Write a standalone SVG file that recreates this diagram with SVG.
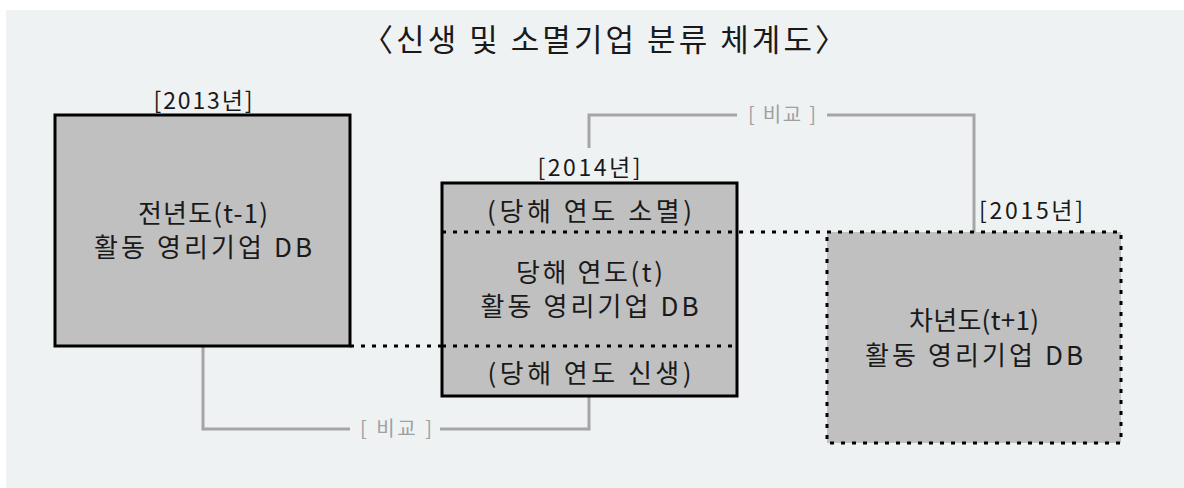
<svg xmlns="http://www.w3.org/2000/svg" width="1184" height="488" viewBox="0 0 1184 488">
<style>
text{font-family:"Noto Sans CJK KR","Noto Sans",sans-serif;fill:#1a1a1a;text-anchor:middle}
.title{font-size:31px}
.lbl{font-size:23px}
.box{font-size:26px}
.cmp{font-size:20px;fill:#a0a0a0}
.solid{fill:#c0c0c0;stroke:#000;stroke-width:3}
.dot{fill:none;stroke:#000;stroke-width:3;stroke-dasharray:4 7}
.gray{fill:none;stroke:#a5a5a5;stroke-width:3}
</style>
<rect x="6" y="10" width="1178" height="478" fill="#eff2f3"/>
<text class="title" x="604" y="51" textLength="484" lengthAdjust="spacing">〈신생 및 소멸기업 분류 체계도〉</text>
<g id="connectors">
<path class="gray" d="M203,346 V429 H350 M440,429 H589 V396"/>
<path class="gray" d="M589,148 V115 H737 M827,115 H974 V232"/>
<path class="dot" d="M350,346 H737"/>
<path class="dot" d="M442,232 H827"/>
<text class="cmp" x="396" y="436" textLength="72" lengthAdjust="spacing">[ 비교 ]</text>
<text class="cmp" x="782" y="122" textLength="68" lengthAdjust="spacing">[ 비교 ]</text>
</g>
<g id="box2013">
<rect class="solid" x="55" y="115" width="295" height="231"/>
<text class="lbl" x="203" y="109" textLength="99" lengthAdjust="spacing">[2013년]</text>
<text class="box" x="203" y="223" textLength="130" lengthAdjust="spacing">전년도(t-1)</text>
<text class="box" x="203" y="257" textLength="218" lengthAdjust="spacing">활동 영리기업 DB</text>
</g>
<g id="box2014">
<rect class="solid" x="442" y="183" width="295" height="213"/>
<path class="dot" d="M442,232 H737 M442,346 H737"/>
<text class="lbl" x="589" y="176" textLength="103" lengthAdjust="spacing">[2014년]</text>
<text class="box" x="589.5" y="221" textLength="205" lengthAdjust="spacing">(당해 연도 소멸)</text>
<text class="box" x="589.5" y="282" textLength="147" lengthAdjust="spacing">당해 연도(t)</text>
<text class="box" x="589.5" y="316" textLength="218" lengthAdjust="spacing">활동 영리기업 DB</text>
<text class="box" x="589.5" y="383" textLength="204" lengthAdjust="spacing">(당해 연도 신생)</text>
</g>
<g id="box2015">
<rect x="827" y="232" width="294" height="211" fill="#c0c0c0"/>
<rect class="dot" x="827" y="232" width="294" height="211"/>
<text class="lbl" x="1031" y="219" textLength="104" lengthAdjust="spacing">[2015년]</text>
<text class="box" x="974" y="330" textLength="130" lengthAdjust="spacing">차년도(t+1)</text>
<text class="box" x="974" y="365" textLength="218" lengthAdjust="spacing">활동 영리기업 DB</text>
</g>
</svg>
